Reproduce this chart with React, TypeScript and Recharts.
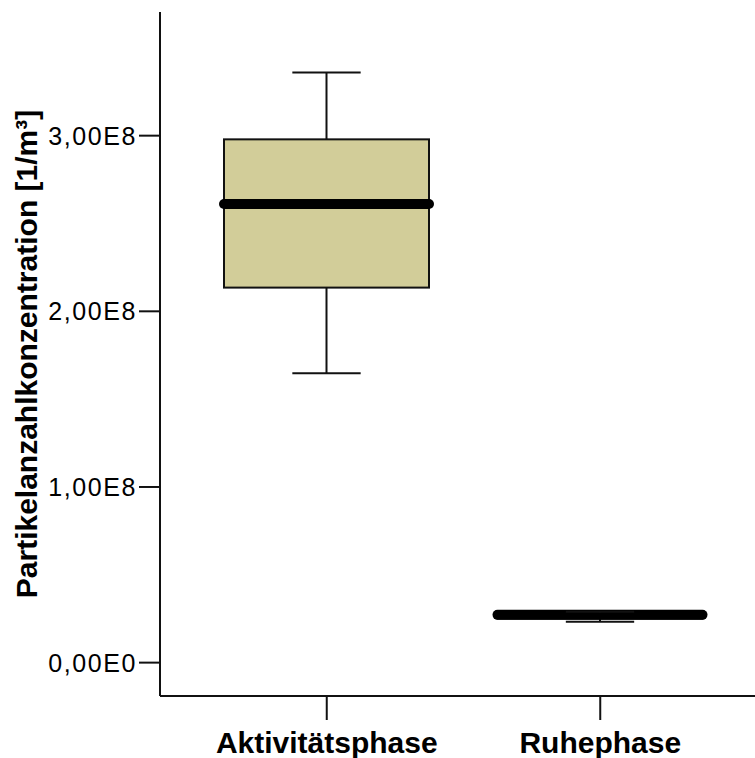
import React from "react";
import { ComposedChart, Bar, XAxis, YAxis } from "recharts";

// five-number summary per phase
const phases = ["Aktivitätsphase", "Ruhephase"];
const whiskerLow = [1.647e8, 0.232e8];
const quartile1 = [2.135e8, 0.25e8];
const medians = [2.611e8, 0.272e8];
const quartile3 = [2.979e8, 0.285e8];
const whiskerHigh = [3.359e8, 0.29e8];

const yTicks = [0, 1e8, 2e8, 3e8];
const yTickLabels = ["0,00E0", "1,00E8", "2,00E8", "3,00E8"];

const BOX_FILL = "#d2cd99";
const INK = "#111111";

// stacked segments: invisible base, lower whisker, lower box half, upper box half, upper whisker
const data = phases.map((name, i) => ({
  name,
  base: whiskerLow[i],
  lowWhisker: quartile1[i] - whiskerLow[i],
  lowBox: medians[i] - quartile1[i],
  highBox: quartile3[i] - medians[i],
  highWhisker: whiskerHigh[i] - quartile3[i],
}));

const LowWhisker = (p: any) => {
  const cx = p.x + p.width / 2;
  const cap = p.width / 3;
  return (
    <g>
      <line x1={cx} x2={cx} y1={p.y} y2={p.y + p.height} stroke={INK} strokeWidth={2} />
      <line x1={cx - cap / 2} x2={cx + cap / 2} y1={p.y + p.height} y2={p.y + p.height} stroke={INK} strokeWidth={2} />
    </g>
  );
};

const HighWhisker = (p: any) => {
  const cx = p.x + p.width / 2;
  const cap = p.width / 3;
  return (
    <g>
      <line x1={cx} x2={cx} y1={p.y} y2={p.y + p.height} stroke={INK} strokeWidth={2} />
      <line x1={cx - cap / 2} x2={cx + cap / 2} y1={p.y} y2={p.y} stroke={INK} strokeWidth={2} />
    </g>
  );
};

const LowBox = (p: any) => (
  <rect x={p.x} y={p.y} width={p.width} height={p.height} fill={BOX_FILL} stroke={INK} strokeWidth={2} />
);

// upper half of the box, with the median drawn along its lower edge
const HighBox = (p: any) => (
  <g>
    <rect x={p.x} y={p.y} width={p.width} height={p.height} fill={BOX_FILL} stroke={INK} strokeWidth={2} />
    <line
      x1={p.x}
      x2={p.x + p.width}
      y1={p.y + p.height}
      y2={p.y + p.height}
      stroke="#000"
      strokeWidth={10}
      strokeLinecap="round"
    />
  </g>
);

const YLabel = () => (
  <text
    x={37}
    y={354}
    transform="rotate(-90 37 354)"
    textAnchor="middle"
    fontFamily="'Liberation Sans', Arial, sans-serif"
    fontWeight="bold"
    fontSize={30}
    fill="#000"
  >
    Partikelanzahlkonzentration [1/m³]
  </text>
);

export default function App() {
  return (
    <div style={{ position: "absolute", left: 0, top: 0, width: 755, height: 758, overflow: "hidden", background: "#fff" }}>
      <ComposedChart
        width={780}
        height={758}
        data={data}
        margin={{ top: 12, right: 13, bottom: 0, left: 0 }}
        barSize={205}
      >
        <XAxis
          dataKey="name"
          height={62}
          padding={{ left: 30, right: 30 }}
          axisLine={{ stroke: INK, strokeWidth: 2 }}
          tickLine={{ stroke: INK, strokeWidth: 2 }}
          tickSize={24}
          tickMargin={12}
          tick={{ fontFamily: "'Liberation Sans', Arial, sans-serif", fontWeight: "bold", fontSize: 30, fill: "#000" }}
        />
        <XAxis xAxisId="top" orientation="top" dataKey="name" height={0} tick={false} tickLine={false} axisLine={{ stroke: INK, strokeWidth: 2 }} />
        <YAxis
          width={160}
          domain={[-0.19e8, 3.704e8]}
          ticks={yTicks}
          allowDataOverflow
          tickFormatter={(v: number) => yTickLabels[yTicks.indexOf(v)]}
          axisLine={{ stroke: INK, strokeWidth: 2 }}
          tickLine={{ stroke: INK, strokeWidth: 2 }}
          tickSize={21}
          tickMargin={2}
          tick={{ fontFamily: "'Liberation Sans', Arial, sans-serif", fontSize: 25, letterSpacing: 1.6, fill: "#000" }}
          label={<YLabel />}
        />
        <Bar dataKey="base" stackId="b" fill="transparent" isAnimationActive={false} />
        <Bar dataKey="lowWhisker" stackId="b" shape={LowWhisker} isAnimationActive={false} />
        <Bar dataKey="lowBox" stackId="b" shape={LowBox} isAnimationActive={false} />
        <Bar dataKey="highBox" stackId="b" shape={HighBox} isAnimationActive={false} />
        <Bar dataKey="highWhisker" stackId="b" shape={HighWhisker} isAnimationActive={false} />
      </ComposedChart>
    </div>
  );
}
